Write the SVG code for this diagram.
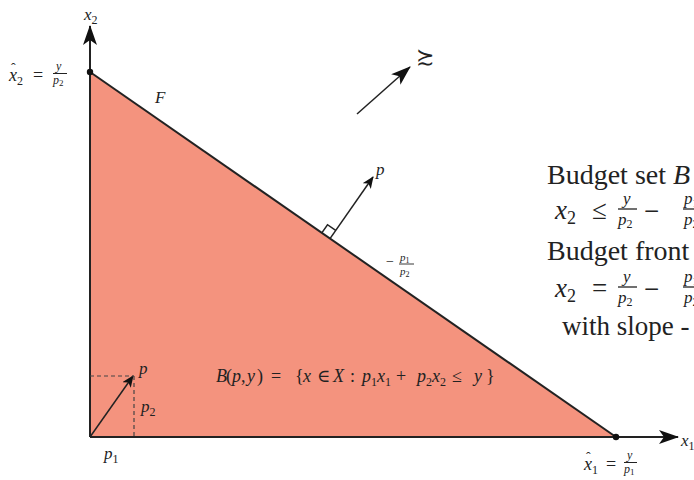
<svg xmlns="http://www.w3.org/2000/svg" width="694" height="480" viewBox="0 0 694 480">
<defs>
<style>
.m{font-family:"Liberation Serif","DejaVu Serif",serif;font-style:italic;fill:#222}
.r{font-family:"Liberation Serif","DejaVu Serif",serif;fill:#222;font-style:normal}
.ax{stroke:#222;stroke-width:2;fill:none}
.th{stroke:#222;stroke-width:1.5;fill:none}
.dash{stroke:#444;stroke-width:1.2;stroke-dasharray:4 3;fill:none}
.bar{stroke:#222;fill:none}
</style>
<marker id="ah" viewBox="0 0 12 10" refX="11" refY="5" markerWidth="12" markerHeight="10" markerUnits="userSpaceOnUse" orient="auto">
<path d="M0,0 L12,5 L0,10 L3,5 Z" fill="#111"/>
</marker>
<marker id="ahb" viewBox="0 0 20 14" refX="19" refY="7" markerWidth="20" markerHeight="14" markerUnits="userSpaceOnUse" orient="auto">
<path d="M0,0 L20,7 L0,14 L5,7 Z" fill="#111"/>
</marker>
</defs>
<rect width="694" height="480" fill="#fff"/>
<g id="budget-set">
<polygon points="90,72 90,437 616,437" fill="#F4937E"/>
</g>
<g id="connectors">
<line class="ax" x1="90" y1="437" x2="678" y2="437" marker-end="url(#ahb)"/>
<line class="ax" x1="90" y1="437" x2="90" y2="26" marker-end="url(#ahb)"/>
<line class="ax" x1="90" y1="72" x2="616" y2="437"/>
<line class="th" x1="357" y1="114" x2="410" y2="67" stroke-width="2.2" marker-end="url(#ahb)"/>
<line class="th" x1="330" y1="238.6" x2="373" y2="177" marker-end="url(#ah)"/>
<polyline class="th" stroke-width="1" points="321.8,232.9 327.5,224.7 335.7,230.4"/>
<line class="th" x1="90" y1="437" x2="133" y2="376" marker-end="url(#ah)"/>
<line class="dash" x1="90" y1="376" x2="134" y2="376"/>
<line class="dash" x1="134" y1="376" x2="134" y2="437"/>
</g>
<g id="points">
<circle cx="90" cy="72" r="3.2" fill="#111"/>
<circle cx="616" cy="437" r="3.2" fill="#111"/>
</g>
<g id="labels">
<text class="m" x="84" y="20" font-size="17">x<tspan font-size="12" dy="4" font-style="normal">2</tspan></text>
<text class="m" x="681" y="446" font-size="17">x<tspan font-size="12" dy="4" font-style="normal">1</tspan></text>
<text class="m" x="9" y="81" font-size="18">x<tspan font-size="12" dy="4" font-style="normal">2</tspan></text>
<text class="r" x="11" y="73" font-size="14">ˆ</text>
<text class="r" x="33" y="81" font-size="18">=</text>
<text class="m" x="56" y="70" font-size="12">y</text>
<line class="bar" x1="53" y1="73.5" x2="67" y2="73.5" stroke-width="1"/>
<text class="m" x="53" y="84" font-size="12">p<tspan font-size="9" dy="2" font-style="normal">2</tspan></text>
<text class="m" x="155" y="103" font-size="17">F</text>
<text class="r" x="416" y="64" font-size="22">≿</text>
<text class="m" x="376" y="175" font-size="17">p</text>
<text class="r" x="386" y="266" font-size="14">−</text>
<text class="m" x="400" y="261" font-size="11">p<tspan font-size="8" dy="2" font-style="normal">1</tspan></text>
<line class="bar" x1="399" y1="264" x2="414" y2="264" stroke-width="0.9"/>
<text class="m" x="400" y="275" font-size="11">p<tspan font-size="8" dy="2" font-style="normal">2</tspan></text>
<text class="m" x="139" y="374" font-size="17">p</text>
<text class="m" x="141" y="412" font-size="17">p<tspan font-size="12" dy="4" font-style="normal">2</tspan></text>
<text class="m" x="104" y="459" font-size="17">p<tspan font-size="12" dy="4" font-style="normal">1</tspan></text>
<text class="m" y="382" font-size="18"><tspan x="216">B</tspan><tspan x="226" font-style="normal">(</tspan><tspan x="232">p</tspan><tspan x="241" font-style="normal">,</tspan><tspan x="247">y</tspan><tspan x="257" font-style="normal">)</tspan><tspan x="271" font-style="normal">=</tspan><tspan x="295" font-style="normal">{</tspan><tspan x="303">x</tspan><tspan x="317" font-style="normal">∈</tspan><tspan x="333">X</tspan><tspan x="350" font-style="normal">:</tspan><tspan x="362">p</tspan><tspan x="371" dy="4" font-size="12" font-style="normal">1</tspan><tspan x="377" dy="-4">x</tspan><tspan x="385" dy="4" font-size="12" font-style="normal">1</tspan><tspan x="396" dy="-4" font-style="normal">+</tspan><tspan x="417">p</tspan><tspan x="426" dy="4" font-size="12" font-style="normal">2</tspan><tspan x="432" dy="-4">x</tspan><tspan x="440" dy="4" font-size="12" font-style="normal">2</tspan><tspan x="452" dy="-4" font-style="normal">≤</tspan><tspan x="474">y</tspan><tspan x="486" font-style="normal">}</tspan></text>
<text class="m" x="584" y="470" font-size="18">x<tspan font-size="12" dy="4" font-style="normal">1</tspan></text>
<text class="r" x="586" y="462" font-size="14">ˆ</text>
<text class="r" x="606" y="470" font-size="18">=</text>
<text class="m" x="627" y="459" font-size="12">y</text>
<line class="bar" x1="624" y1="462.5" x2="637" y2="462.5" stroke-width="1"/>
<text class="m" x="624" y="473" font-size="12">p<tspan font-size="9" dy="2" font-style="normal">1</tspan></text>
</g>
<g id="annotations">
<text class="r" x="547" y="184" font-size="28">Budget set <tspan font-style="italic">B</tspan></text>
<text class="m" x="555" y="219" font-size="27">x<tspan font-size="18" dy="5" font-style="normal">2</tspan></text>
<text class="r" x="592" y="219" font-size="27">≤</text>
<text class="m" x="623" y="204" font-size="17">y</text>
<line class="bar" x1="618" y1="209" x2="637" y2="209" stroke-width="1.3"/>
<text class="m" x="618" y="225" font-size="17">p<tspan font-size="12" dy="3" font-style="normal">2</tspan></text>
<text class="r" x="644" y="220" font-size="27">−</text>
<text class="m" x="684" y="204" font-size="17">p<tspan font-size="12" dy="3" font-style="normal">1</tspan></text>
<line class="bar" x1="683" y1="209" x2="708" y2="209" stroke-width="1.3"/>
<text class="m" x="684" y="225" font-size="17">p<tspan font-size="12" dy="3" font-style="normal">2</tspan></text>
<text class="r" x="547" y="260" font-size="28">Budget front</text>
<text class="m" x="555" y="297" font-size="27">x<tspan font-size="18" dy="5" font-style="normal">2</tspan></text>
<text class="r" x="592" y="297" font-size="27">=</text>
<text class="m" x="623" y="282" font-size="17">y</text>
<line class="bar" x1="618" y1="287" x2="637" y2="287" stroke-width="1.3"/>
<text class="m" x="618" y="303" font-size="17">p<tspan font-size="12" dy="3" font-style="normal">2</tspan></text>
<text class="r" x="644" y="298" font-size="27">−</text>
<text class="m" x="684" y="282" font-size="17">p<tspan font-size="12" dy="3" font-style="normal">1</tspan></text>
<line class="bar" x1="683" y1="287" x2="708" y2="287" stroke-width="1.3"/>
<text class="m" x="684" y="303" font-size="17">p<tspan font-size="12" dy="3" font-style="normal">2</tspan></text>
<text class="r" x="562" y="335" font-size="27">with slope -</text>
</g>
</svg>
